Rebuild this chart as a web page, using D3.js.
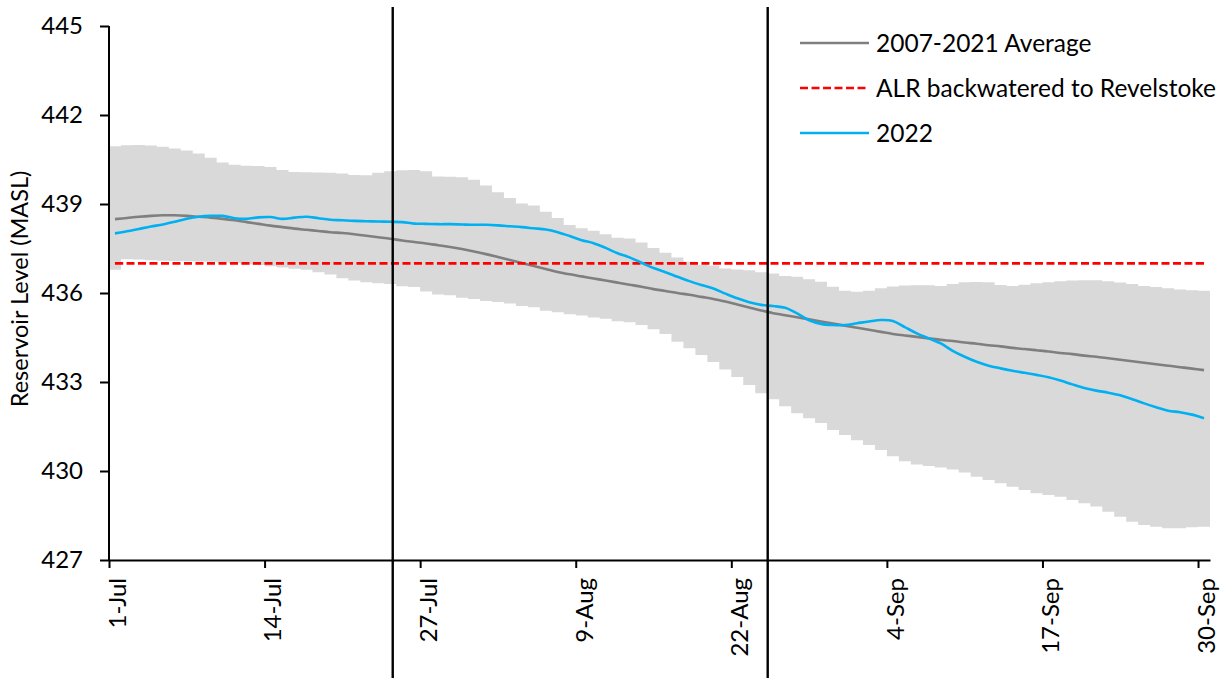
<!DOCTYPE html>
<html>
<head>
<meta charset="utf-8">
<script src="https://cdn.jsdelivr.net/npm/d3@7"></script>
<style>
  html, body { margin: 0; padding: 0; background: #fff; }
  svg { display: block; font-family: Lato, "Noto Sans", sans-serif; }
</style>
</head>
<body>
<svg id="chart" width="1225" height="678"></svg>
<script>
// Daily reservoir levels (m above sea level), 1 Jul – 30 Sep
const startDate = "2022-07-01";

// 2007-2021 daily average
const avg2007_2021 = [
  438.49, 438.53, 438.57, 438.60, 438.62, 438.62, 438.60, 438.57, 438.54, 438.50,
  438.45, 438.39, 438.33, 438.27, 438.22, 438.17, 438.13, 438.09, 438.05, 438.02,
  437.98, 437.93, 437.88, 437.83, 437.77, 437.72, 437.67, 437.61, 437.55, 437.48,
  437.40, 437.31, 437.21, 437.11, 437.01, 436.91, 436.81, 436.71, 436.63, 436.56,
  436.49, 436.42, 436.35, 436.28, 436.21, 436.13, 436.07, 436.00, 435.94, 435.87,
  435.80, 435.71, 435.61, 435.51, 435.41, 435.32, 435.25, 435.18, 435.11, 435.04,
  434.97, 434.90, 434.83, 434.76, 434.69, 434.62, 434.57, 434.52, 434.47, 434.42,
  434.38, 434.33, 434.29, 434.24, 434.20, 434.15, 434.11, 434.07, 434.03, 433.98,
  433.94, 433.89, 433.85, 433.80, 433.75, 433.70, 433.65, 433.60, 433.55, 433.50,
  433.45, 433.40
];

// 2022 daily level
const level2022 = [
  438.01, 438.08, 438.16, 438.24, 438.31, 438.40, 438.50, 438.57, 438.60, 438.60,
  438.52, 438.50, 438.55, 438.56, 438.50, 438.54, 438.57, 438.52, 438.47, 438.45,
  438.43, 438.42, 438.41, 438.40, 438.39, 438.34, 438.33, 438.32, 438.32, 438.31,
  438.30, 438.30, 438.28, 438.25, 438.22, 438.18, 438.14, 438.05, 437.92, 437.78,
  437.68, 437.52, 437.34, 437.20, 437.02, 436.84, 436.70, 436.55, 436.40, 436.27,
  436.15, 435.98, 435.82, 435.69, 435.60, 435.56, 435.50, 435.31, 435.08, 434.96,
  434.92, 434.92, 434.98, 435.04, 435.09, 435.06, 434.85, 434.64, 434.47, 434.30,
  434.05, 433.85, 433.68, 433.55, 433.46, 433.38, 433.31, 433.24, 433.16, 433.05,
  432.92, 432.80, 432.71, 432.64, 432.55, 432.42, 432.28, 432.15, 432.03, 431.98,
  431.90, 431.78
];

// 2007-2021 daily minimum and maximum (shaded range)
const rangeMin = [
  436.78, 437.14, 437.13, 437.10, 437.09, 437.08, 437.07, 437.06, 437.05, 437.04,
  437.00, 436.96, 436.94, 436.90, 436.86, 436.82, 436.78, 436.70, 436.62, 436.50,
  436.42, 436.36, 436.33, 436.30, 436.23, 436.20, 436.05, 435.95, 435.92, 435.84,
  435.80, 435.73, 435.70, 435.65, 435.56, 435.52, 435.40, 435.35, 435.28, 435.24,
  435.17, 435.13, 435.05, 435.01, 434.92, 434.78, 434.62, 434.36, 434.14, 433.91,
  433.67, 433.42, 433.17, 432.90, 432.62, 432.42, 432.18, 431.95, 431.78, 431.62,
  431.38, 431.21, 431.04, 430.88, 430.71, 430.50, 430.33, 430.22, 430.17, 430.12,
  430.05, 429.95, 429.81, 429.70, 429.59, 429.47, 429.36, 429.25, 429.19, 429.13,
  429.02, 428.91, 428.80, 428.63, 428.46, 428.29, 428.18, 428.12, 428.07, 428.07,
  428.10, 428.12
];
const rangeMax = [
  440.95, 440.98, 440.99, 440.97, 440.93, 440.87, 440.80, 440.70, 440.56, 440.40,
  440.32, 440.29, 440.28, 440.25, 440.15, 440.08, 440.07, 440.06, 440.05, 440.03,
  439.98, 439.97, 440.05, 440.10, 440.14, 440.15, 440.10, 439.93, 439.92, 439.90,
  439.82, 439.62, 439.40, 439.20, 439.02, 438.95, 438.74, 438.53, 438.29, 438.18,
  438.10, 437.98, 437.86, 437.84, 437.70, 437.52, 437.36, 437.20, 437.05, 436.95,
  436.93, 436.83, 436.79, 436.77, 436.70, 436.66, 436.57, 436.55, 436.46, 436.38,
  436.21, 436.08, 436.04, 436.08, 436.16, 436.22, 436.25, 436.26, 436.26, 436.24,
  436.30, 436.36, 436.37, 436.36, 436.27, 436.24, 436.28, 436.33, 436.36, 436.40,
  436.42, 436.43, 436.43, 436.40, 436.35, 436.30, 436.24, 436.20, 436.16, 436.12,
  436.09, 436.08
];

// Arrow Lakes Reservoir level backwatered to Revelstoke
const alrLevel = 437;

// Event markers (vertical lines)
const markerTimes = ["2022-07-24T17:00:00Z", "2022-08-25T01:00:00Z"];

// Axis ticks
const yTicks = [427, 430, 433, 436, 439, 442, 445];
const xTickDayOffsets = [0, 13, 26, 39, 52, 65, 78, 91];

const legendItems = [
  { label: "2007-2021 Average", color: "#7f7f7f", dash: null },
  { label: "ALR backwatered to Revelstoke", color: "#ff0000", dash: "8,3.5" },
  { label: "2022", color: "#00b0f0", dash: null }
];

// ---------------------------------------------------------------
const svg = d3.select("#chart");
const W = 1225, H = 678;
const plot = { left: 109, right: 1210, top: 26, bottom: 560 };

const t0 = d3.utcParse("%Y-%m-%d")(startDate);
const nDays = avg2007_2021.length;
const tEnd = d3.utcDay.offset(t0, nDays);
const dayStart = i => d3.utcDay.offset(t0, i);
const dayMid = i => d3.utcHour.offset(dayStart(i), 12);

const x = d3.scaleUtc().domain([t0, tEnd]).range([plot.left, plot.right]);
const y = d3.scaleLinear().domain([427, 445]).range([plot.bottom, plot.top]);

// Shaded min–max range, one step per day
const bandData = rangeMin.map((v, i) => ({ t: dayStart(i), lo: v, hi: rangeMax[i] }));
bandData.push({ t: tEnd, lo: rangeMin[nDays - 1], hi: rangeMax[nDays - 1] });
svg.append("path")
  .datum(bandData)
  .attr("fill", "#d9d9d9")
  .attr("d", d3.area()
    .curve(d3.curveStepAfter)
    .x(d => x(d.t))
    .y0(d => y(d.lo))
    .y1(d => y(d.hi)));

// Axes
const yAxis = svg.append("g")
  .attr("transform", `translate(${plot.left},0)`)
  .call(d3.axisLeft(y).tickValues(yTicks).tickSize(9).tickPadding(17).tickFormat(d3.format("d")));
yAxis.select(".domain").attr("stroke", "#000").attr("stroke-width", 2)
  .attr("d", `M0,${plot.top}V${plot.bottom}`);
yAxis.selectAll(".tick line").attr("stroke", "#000").attr("stroke-width", 2);
yAxis.selectAll(".tick text")
  .attr("font-family", "Lato, 'Noto Sans', sans-serif")
  .attr("font-size", 24).attr("fill", "#000");

const xTicks = xTickDayOffsets.map(dayStart);
const xAxis = svg.append("g")
  .attr("transform", `translate(0,${plot.bottom})`)
  .call(d3.axisBottom(x).tickValues(xTicks).tickSize(8).tickSizeOuter(0)
    .tickFormat(d3.utcFormat("%-d-%b")));
xAxis.select(".domain").attr("stroke", "#000").attr("stroke-width", 2);
xAxis.selectAll(".tick line").attr("stroke", "#000").attr("stroke-width", 2);
xAxis.selectAll(".tick text")
  .attr("font-family", "Lato, 'Noto Sans', sans-serif")
  .attr("font-size", 24).attr("fill", "#000")
  .attr("text-anchor", "end")
  .attr("transform", "translate(8,18) rotate(-90)")
  .attr("x", 0).attr("y", 0).attr("dy", "0.35em");

// Y axis title
svg.append("text")
  .attr("transform", `translate(28,${(plot.top + plot.bottom) / 2 - 4}) rotate(-90)`)
  .attr("text-anchor", "middle")
  .attr("font-size", 23.5)
  .attr("fill", "#000")
  .text("Reservoir Level (MASL)");

// Series lines
const lineOf = arr => d3.line()
  .curve(d3.curveCatmullRom.alpha(0.5))
  .x((d, i) => x(dayMid(i)))
  .y(d => y(d))(arr);

svg.append("path")
  .attr("d", lineOf(avg2007_2021))
  .attr("fill", "none").attr("stroke", legendItems[0].color).attr("stroke-width", 2.6);

svg.append("path")
  .attr("d", lineOf(avg2007_2021.map(() => alrLevel)))
  .attr("fill", "none").attr("stroke", legendItems[1].color).attr("stroke-width", 2.6)
  .attr("stroke-dasharray", legendItems[1].dash);

svg.append("path")
  .attr("d", lineOf(level2022))
  .attr("fill", "none").attr("stroke", legendItems[2].color).attr("stroke-width", 2.6);

// Event marker lines
svg.selectAll(".marker")
  .data(markerTimes.map(s => new Date(s)))
  .join("line")
  .attr("class", "marker")
  .attr("x1", d => x(d)).attr("x2", d => x(d))
  .attr("y1", 7).attr("y2", H)
  .attr("stroke", "#000").attr("stroke-width", 2.4);

// Legend
const legend = svg.append("g").attr("transform", "translate(800,43)");
const li = legend.selectAll("g").data(legendItems).join("g")
  .attr("transform", (d, i) => `translate(0,${i * 45})`);
li.append("line")
  .attr("x1", 0).attr("x2", 69).attr("y1", 0).attr("y2", 0)
  .attr("stroke", d => d.color).attr("stroke-width", 2.6)
  .attr("stroke-dasharray", d => d.dash);
li.append("text")
  .attr("x", 76).attr("dy", "0.35em")
  .attr("font-size", 24.5).attr("fill", "#000")
  .text(d => d.label);
</script>
</body>
</html>
